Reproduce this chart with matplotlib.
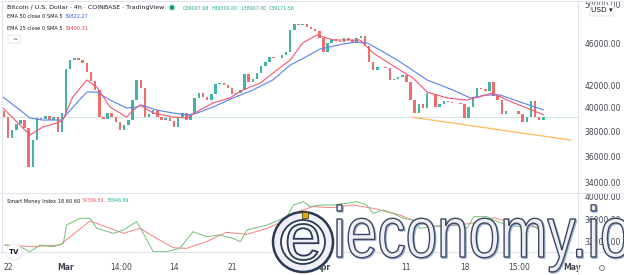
import matplotlib
matplotlib.use("Agg")
import matplotlib.pyplot as plt
import matplotlib.patches as mpatches
from matplotlib.textpath import TextPath
from matplotlib.font_manager import FontProperties
from matplotlib.transforms import Affine2D
from matplotlib.ticker import NullLocator

W, H = 624, 275

# 12h candles, first one half a day before Feb 22 (day 0)
candle_start = -0.5
candle_step = 0.5
first_open = 39700
closes = [39206, 37467, 38120, 38617, 38952, 38286, 35190, 37305, 39119, 39035,
          39289, 38952, 39206, 37955, 39546, 43488, 44341, 44530, 44341, 44055,
          43208, 42375, 41559, 39206, 39035, 39546, 39206, 38783, 38120, 38534,
          38952, 40671, 42467, 41741, 39206, 39462, 39802, 39206, 38952, 39119,
          38867, 38369, 39206, 39546, 38952, 39462, 40849, 41290, 40936, 40671,
          41202, 42099, 42190, 42010, 41741, 41202, 41290, 41559, 43019, 42284,
          42561, 43114, 43770, 44150, 44628, 44530, 44530, 44823, 45111, 47311,
          47929, 47822, 47929, 47618, 47412, 47210, 46501, 45111, 46000, 46400,
          46199, 46100, 46501, 46299, 46000, 46501, 46700, 45702, 44150, 43394,
          43677, 43677, 43581, 42467, 42561, 42743, 42928, 42284, 40671, 39546,
          40324, 39975, 41290, 41202, 40061, 40324, 40582, 40498, 40409, 40409,
          40324, 39119, 40061, 40936, 41741, 41650, 41469, 42284, 41024, 40671,
          39462, 39716, 39716, 39716, 39462, 38783, 39206, 40582, 39206, 38952,
          39172]

ema50_days = [-0.6, 1.45, 2.65, 4.2, 6.5, 7.83, 9.52, 10.7, 12.3, 14.3, 15.5, 16.1,
              17.9, 19.9, 21.6, 22.8, 24.7, 27.1, 29.5, 31.9, 34.0, 35.2, 37.6, 40.4,
              42.0, 43.3, 44.8, 46.9, 50.5, 53.6, 55.7, 57.7, 59.3, 61.7, 64.5]
ema50_vals = [40936, 39802, 39119, 38952, 38952, 40061, 41381, 41381, 40671, 39975,
              40061, 40234, 39802, 39546, 39375, 39546, 40061, 40849, 41559, 42467,
              43865, 44341, 45408, 45901, 46100, 46000, 45310, 44341, 42467, 41559,
              40849, 41113, 41113, 40498, 39822]

ema25_days = [-0.6, 0.6, 2.65, 4.2, 5.9, 6.6, 7.8, 9.5, 10.7, 12.3, 14.3, 15.1, 15.9,
              17.5, 19.9, 21.6, 23.1, 24.7, 26.7, 28.3, 30.4, 32.4, 34.0, 35.5, 37.2,
              39.2, 42.4, 44.0, 47.2, 48.8, 50.5, 52.9, 55.3, 58.4, 60.1, 62.5, 64.5]
ema25_vals = [39975, 39119, 37710, 38369, 38700, 38952, 40936, 42467, 41832, 40061,
              39206, 39802, 40234, 39546, 39206, 39119, 39802, 40409, 40849, 41559,
              42190, 43394, 44341, 46000, 46802, 46299, 46299, 45016, 43394, 42651,
              41381, 40849, 40671, 41290, 40671, 39975, 39400]

trend_days = [48.7, 67.8]
trend_vals = [39190, 37305]

smi_days = [-0.36, 1.45, 2.65, 3.86, 5.46, 6.67, 7.07, 8.67, 9.88, 10.7, 12.7, 13.9,
            15.5, 16.3, 17.5, 19.1, 20.7, 22.3, 23.9, 25.5, 27.1, 28.0, 28.8, 31.2,
            33.6, 34.4, 35.6, 36.4, 37.6, 39.2, 40.8, 42.0, 43.2, 44.0, 45.2, 46.4,
            47.6, 48.8, 49.6, 51.2, 52.9, 54.5, 55.3, 56.1, 57.7, 58.5, 60.1, 61.7,
            62.9, 63.7, 64.5]
smi_vals = [31467, 31169, 30280, 31467, 31169, 31762, 35022, 36207, 36207, 34429,
            33540, 34133, 35614, 33540, 30280, 30280, 30873, 33836, 32948, 33244,
            32651, 32058, 34133, 35022, 36503, 38578, 39170, 38281, 38578, 38578,
            38874, 39170, 38578, 37096, 37689, 37096, 36207, 35911, 34429, 34725,
            35022, 35022, 34429, 36503, 36503, 35911, 35022, 34725, 35318, 34429,
            33947]
sig_days = [-0.36, 3.05, 6.27, 8.27, 9.88, 12.29, 13.9, 15.9, 17.9, 19.9, 21.5, 23.9,
            26.3, 28.8, 31.2, 33.6, 35.2, 36.7, 39.1, 41.6, 44.0, 47.2, 49.6, 52.0,
            54.5, 56.9, 58.5, 60.9, 63.3, 64.5]
sig_vals = [31467, 31169, 31467, 33836, 35733, 34429, 33540, 34429, 32651, 30992,
            30873, 32058, 33718, 33363, 34429, 35911, 37500, 38300, 38104, 38578,
            37985, 36800, 35318, 34725, 35022, 35614, 36326, 35318, 34725, 34400]

price_ticks = [50000, 46000, 42000, 40000, 38000, 36000, 34000]
smi_ticks = [40000, 36000, 32000]
time_ticks = [0, 7, 13.58, 20, 27, 38, 48, 55, 61.63, 68]
time_labels = ["22", "Mar", "14:00", "14", "21", "Apr", "11", "18", "15:00", "May"]

UP, DOWN = "#26a69a", "#ef5350"
GRID = "#e0e3eb"
TXT = "#434651"

fig = plt.figure(figsize=(W / 100, H / 100), dpi=100)
fig.patch.set_facecolor("white")
T = Affine2D().scale(1 / W, 1 / H) + fig.transFigure  # pixel coords, y up

ax = fig.add_axes([0, 1 - 193 / H, 578 / W, 193 / H])
ax2 = fig.add_axes([0, 1 - 252 / H, 578 / W, 59 / H])

# candles
opens = [first_open] + closes[:-1]
xs = [candle_start + i * candle_step for i in range(len(closes))]
for x, o, c in zip(xs, opens, closes):
    col = UP if c >= o else DOWN
    ax.bar(x, abs(c - o), bottom=min(o, c), width=0.3, color=col, linewidth=0, alpha=0.85)

ax.plot(ema50_days, ema50_vals, color="#5b7ff0", lw=0.8)
ax.plot(ema25_days, ema25_vals, color="#f0566f", lw=0.8)
ax.plot(trend_days, trend_vals, color="#ffb85c", lw=0.9)
ax.axhline(closes[-1], color="#d3e6e1", lw=0.8, zorder=0)

ax.set_yscale("log")
ax.set_ylim(33273, 50478)
ax.set_xlim(-0.96, 68.67)
ax.yaxis.set_minor_locator(NullLocator())
ax.set_yticks(price_ticks)
ax.set_yticklabels([f"{v:.2f}" for v in price_ticks])
ax.yaxis.tick_right()
ax.tick_params(axis="y", length=0, pad=4.5, labelsize=5.5, labelcolor=TXT)
ax.set_xticks([])

ax2.plot(sig_days, sig_vals, color="#f4827f", lw=0.7)
ax2.plot(smi_days, smi_vals, color="#72c172", lw=0.7)
ax2.set_xlim(-0.96, 68.67)
ax2.set_ylim(30222, 40711)
ax2.set_yticks(smi_ticks)
ax2.set_yticklabels([f"{v:.2f}" for v in smi_ticks])
ax2.yaxis.tick_right()
ax2.tick_params(axis="y", length=0, pad=4.5, labelsize=5.5, labelcolor=TXT)
ax2.set_xticks(time_ticks)
ax2.set_xticklabels(time_labels)
ax2.tick_params(axis="x", length=0, pad=8, labelsize=5.5, labelcolor=TXT)
for lab in ax2.get_xticklabels():
    if lab.get_text() in ("Mar", "Apr", "May"):
        lab.set_fontweight("bold")

for a in (ax, ax2):
    for s in a.spines.values():
        s.set_visible(False)
    a.set_facecolor("none")

# pane borders
fig.add_artist(plt.Line2D([578, 578], [0, H - 1], color=GRID, lw=0.8, transform=T))
fig.add_artist(plt.Line2D([0, W], [H - 193, H - 193], color=GRID, lw=0.8, transform=T))
fig.add_artist(plt.Line2D([0, W], [H - 252, H - 252], color=GRID, lw=0.8, transform=T))
fig.add_artist(plt.Line2D([1.5, 1.5], [H - 252, H - 1], color=GRID, lw=0.8, transform=T))
fig.add_artist(plt.Line2D([0, W], [H - 1, H - 1], color=GRID, lw=0.8, transform=T))


def label(x, y, s, color=TXT, size=3.6, weight="normal"):
    fig.text(x / W, 1 - y / H, s, color=color, fontsize=size, va="center",
             ha="left", fontweight=weight)


label(7, 8, "Bitcoin / U.S. Dollar · 4h · COINBASE · TradingView", "#131722", 4.5)
fig.add_artist(mpatches.Circle((172, H - 7.5), 3.2, color="#d6f0ea", transform=T))
fig.add_artist(mpatches.Circle((172, H - 7.5), 1.6, color="#089981", transform=T))
for xx, s in [(183, "O39007.68"), (211, "H39300.00"), (241, "L38907.00"), (269, "C39171.56")]:
    label(xx, 8, s, "#26a69a", 3.4)
label(7, 17, "EMA 50 close 0 SMA 5", "#131722")
label(65, 17, "39822.27", "#2962ff")
label(7, 29, "EMA 25 close 0 SMA 5", "#131722")
label(65, 29, "39400.31", "#f23645")
fig.add_artist(mpatches.FancyBboxPatch((8, H - 43), 13, 8, boxstyle="round,pad=0,rounding_size=1.5",
                                       fc="white", ec=GRID, lw=0.6, transform=T))
label(12, 40, "^", "#131722", 4.5)
label(7, 201, "Smart Money Index 18 60 60", "#131722")
label(82, 201, "34399.59", "#f7525f", 3.4)
label(107, 201, "33946.69", "#22ab94", 3.4)

# USD box over the top price label
fig.add_artist(mpatches.FancyBboxPatch((590, H - 16), 24, 11, boxstyle="round,pad=0,rounding_size=2",
                                       fc="white", ec=GRID, lw=0.6, transform=T, zorder=5))
fig.text(602 / W, 1 - 10.5 / H, "USD ▾", fontsize=5.3, color="#131722", ha="center",
         va="center", zorder=6)
fig.add_artist(mpatches.Circle((602, H - 268), 2.5, fc="none", ec="#6a6d78", lw=0.6, transform=T))

# TradingView badge
fig.add_artist(mpatches.Circle((14, H - 252), 8, fc="white", ec=GRID, lw=0.6, transform=T, zorder=4))
fig.text(14 / W, 1 - 252 / H, "TV", fontsize=5, fontweight="bold", color="#131722",
         ha="center", va="center", zorder=5)

# ieconomy.io watermark
prop = FontProperties(family="Liberation Sans")
tp = TextPath((0, 0), "ieconomy.io", size=1, prop=prop)
ext = tp.get_extents()
xh = TextPath((0, 0), "x", size=1, prop=prop).get_extents().height
sy = 38 / xh
sx = 292 / ext.width
for dx, dy, fc, ec, lw in [(1.2, -1.2, "#9fb2d6", "#9fb2d6", 0.8),
                           (0, 0, "#eef0f5", "#3d4862", 1.0)]:
    tr = Affine2D().translate(-ext.x0, 0).scale(sx, sy).translate(337 + dx, 18 + dy) + T
    fig.add_artist(mpatches.PathPatch(tp, fc=fc, ec=ec, lw=lw, transform=tr, zorder=10))

cx, cy = 303, H - 242
fig.add_artist(mpatches.Circle((cx + 1.2, cy - 1.2), 30, fc="#9fb2d6", ec="none", transform=T, zorder=10))
fig.add_artist(mpatches.Circle((cx, cy), 30, fc="#eef0f5", ec="#2d3a55", lw=1.8, transform=T, zorder=10))
fig.add_artist(mpatches.Circle((cx, cy), 22, fc="#f7f8fb", ec="#2d3a55", lw=1.3, transform=T, zorder=10))
ep = TextPath((0, 0), "e", size=1, prop=prop)
eext = ep.get_extents()
etr = Affine2D().translate(-(eext.x0 + eext.width / 2), -(eext.y0 + eext.height / 2)).scale(36 / eext.height) \
    .translate(cx, cy) + T
fig.add_artist(mpatches.PathPatch(ep, fc="#eef0f5", ec="#2d3a55", lw=1.3, transform=etr, zorder=11))
fig.add_artist(mpatches.Rectangle((cx - 1, cy + 24), 6, 6, fc="#e3a70f", ec="#5a4a10", lw=0.6,
                                  transform=T, zorder=12))

fig.savefig("out.png", dpi=100)
